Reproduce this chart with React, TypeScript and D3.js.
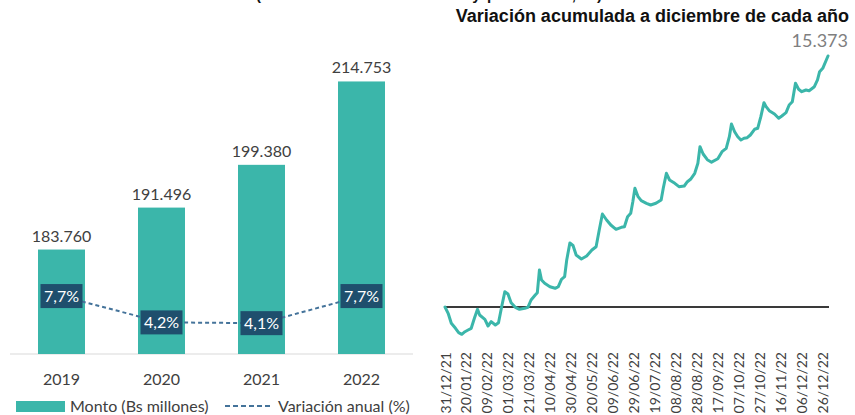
import React from "react";
import * as d3 from "d3";

// ---- Left chart data ----
const years = ["2019", "2020", "2021", "2022"];
const montos = [183760, 191496, 199380, 214753];
const montoLabels = ["183.760", "191.496", "199.380", "214.753"];
const variacion = [7.7, 4.2, 4.1, 7.7];
const variacionLabels = ["7,7%", "4,2%", "4,1%", "7,7%"];

// ---- Right chart data (days since 31/12/2021, cumulative variation) ----
const lineDays = [
  0, 3, 6, 10, 13, 16, 19, 22, 25, 28, 31, 33, 38, 41, 44, 48, 51, 54, 57, 60,
  63, 67, 71, 76, 79, 82, 86, 88, 90, 92, 95, 100, 105, 108, 111, 114, 116, 119,
  122, 125, 130, 135, 140, 144, 147, 150, 154, 158, 163, 168, 171, 174, 177, 179,
  181, 184, 187, 192, 196, 201, 206, 208, 211, 214, 219, 223, 228, 231, 234, 238,
  241, 243, 246, 250, 254, 260, 264, 268, 271, 273, 276, 279, 282, 285, 288, 291,
  295, 298, 301, 304, 306, 309, 314, 318, 321, 325, 328, 331, 334, 337, 340, 344,
  347, 352, 355, 357, 360, 365,
];
const lineValues = [
  0, -386, -998, -1305, -1574, -1672, -1513, -1409, -1305, -692, -141, -490, -753,
  -1164, -900, -1103, -962, 18, 937, 796, 263, -18, -141, -80, -18, 429, 735, 876,
  2266, 1654, 1452, 1243, 1145, 1243, 1697, 1856, 2879, 3920, 3767, 3185, 2940,
  3124, 3491, 3693, 4716, 5696, 5329, 5023, 4759, 4882, 4918, 5531, 5739, 6450,
  7270, 6756, 6511, 6352, 6248, 6352, 6554, 7270, 8189, 7779, 7576, 7368, 7411,
  7675, 7822, 8189, 8802, 9818, 9371, 9022, 8869, 9077, 9512, 9720, 10431, 11209,
  10737, 10431, 10229, 10333, 10370, 10535, 10884, 10946, 11656, 12513, 12268,
  12023, 11821, 11558, 11699, 11901, 12373, 12574, 13702, 13334, 13187, 13291,
  13248, 13493, 13904, 14412, 14620, 15373,
];
const lastLabel = "15.373";
const tickLabels = [
  "31/12/21", "20/01/22", "09/02/22", "01/03/22", "21/03/22", "10/04/22",
  "30/04/22", "20/05/22", "09/06/22", "29/06/22", "19/07/22", "08/08/22",
  "28/08/22", "17/09/22", "07/10/22", "27/10/22", "16/11/22", "06/12/22",
  "26/12/22",
];

const TEAL = "#3bb6aa";
const NAVY = "#1f4f6d";
const DASH = "#44739a";
const TXT = "#404040";
const LATO = "Lato, 'Open Sans', sans-serif";
const ARIAL = "'Liberation Sans', Arial, sans-serif";

export default function App() {
  // Left chart scales
  const x = d3.scaleBand<string>().domain(years).range([10, 413]).paddingInner(0.53).paddingOuter(0.28);
  const y = d3.scaleLinear().domain([164500, 220000]).range([354, 53]);
  const y2 = d3.scaleLinear().domain([0, 40]).range([354, 53]);
  const cx = (yr: string) => (x(yr) as number) + x.bandwidth() / 2;
  const pctLine = d3
    .line<number>()
    .x((_, i) => cx(years[i]))
    .y((v) => y2(v));

  // Right chart scales
  const start = new Date(2021, 11, 31);
  const dayDate = (d: number) => d3.timeDay.offset(start, d);
  const xt = d3.scaleTime().domain([start, dayDate(365)]).range([445, 828]);
  const yr = d3.scaleLinear().domain([0, 15373]).range([307, 56]);
  const pts = lineDays.map((d, i) => ({ date: dayDate(d), v: lineValues[i] }));
  const path = d3
    .line<{ date: Date; v: number }>()
    .x((p) => xt(p.date))
    .y((p) => yr(p.v))
    .curve(d3.curveLinear);
  const last = pts[pts.length - 1];

  return (
    <svg
      width={855}
      height={415}
      style={{ position: "absolute", left: 0, top: 0, background: "#fff" }}
    >
      {/* subtitle line, cropped at the top edge as in the source */}
      <text
        x={256}
        y={0}
        fontFamily={ARIAL}
        fontWeight="bold"
        fontSize={15}
        fill="#111"
        textLength={346}
        lengthAdjust="spacing"
      >
        (Monto en millones de Bs y por ciento, %)
      </text>

      {/* ---------- Left chart ---------- */}
      <line x1={10} x2={413} y1={354} y2={354} stroke="#d9d9d9" strokeWidth={1.2} />
      {years.map((yrs, i) => (
        <g key={yrs}>
          <rect
            x={x(yrs)}
            y={y(montos[i])}
            width={x.bandwidth()}
            height={354 - y(montos[i])}
            fill={TEAL}
          />
          <text
            x={cx(yrs)}
            y={y(montos[i]) - 8}
            textAnchor="middle"
            fontFamily={LATO}
            fontSize={16}
            fill={TXT}
          >
            {montoLabels[i]}
          </text>
          <text x={cx(yrs)} y={385} textAnchor="middle" fontFamily={LATO} fontSize={16} fill={TXT}>
            {yrs}
          </text>
        </g>
      ))}
      <path
        d={pctLine(variacion) || ""}
        fill="none"
        stroke={DASH}
        strokeWidth={2}
        strokeDasharray="4,3"
      />
      {years.map((yrs, i) => (
        <g key={"p" + yrs}>
          <rect x={cx(yrs) - 21} y={y2(variacion[i]) - 12} width={42} height={24} fill={NAVY} />
          <text
            x={cx(yrs)}
            y={y2(variacion[i]) + 6}
            textAnchor="middle"
            fontFamily={LATO}
            fontSize={16}
            fill="#ffffff"
          >
            {variacionLabels[i]}
          </text>
        </g>
      ))}

      {/* legend */}
      <rect x={16} y={401} width={49} height={11} fill={TEAL} />
      <text x={70} y={411.5} fontFamily={LATO} fontSize={16} fill={TXT}>
        Monto (Bs millones)
      </text>
      <line x1={225} x2={273} y1={406} y2={406} stroke={DASH} strokeWidth={2} strokeDasharray="5,3" />
      <text x={278} y={411.5} fontFamily={LATO} fontSize={16} fill={TXT}>
        Variación anual (%)
      </text>

      {/* ---------- Right chart ---------- */}
      <text x={849} y={22} textAnchor="end" fontFamily={ARIAL} fontWeight="bold" fontSize={18} fill="#111">
        Variación acumulada a diciembre de cada año
      </text>
      <line x1={445} x2={829} y1={yr(0)} y2={yr(0)} stroke="#3a3a3a" strokeWidth={2} />
      <path
        d={path(pts) || ""}
        fill="none"
        stroke={TEAL}
        strokeWidth={3}
        strokeLinejoin="round"
        strokeLinecap="round"
      />
      <text
        x={848}
        y={yr(last.v) - 9}
        textAnchor="end"
        fontFamily={LATO}
        fontSize={18}
        fill="#7f7f7f"
      >
        {lastLabel}
      </text>
      {tickLabels.map((t, i) => {
        const tx = xt(dayDate(i * 20));
        return (
          <text
            key={t}
            transform={`translate(${tx},352) rotate(-90)`}
            textAnchor="end"
            dominantBaseline="central"
            fontFamily={LATO}
            fontSize={14}
            fill={TXT}
          >
            {t}
          </text>
        );
      })}
    </svg>
  );
}
